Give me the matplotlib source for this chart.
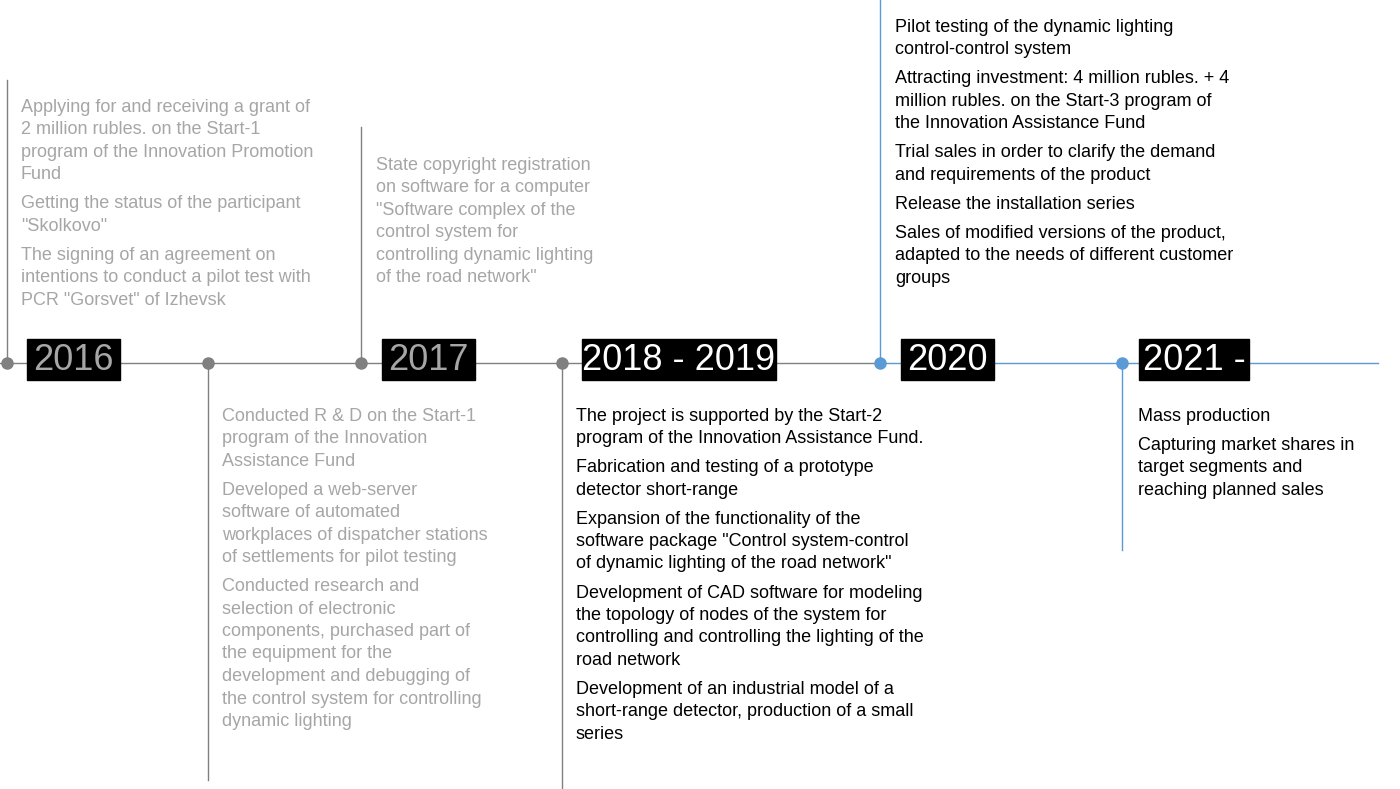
import matplotlib.pyplot as plt

plt.rcParams['font.family'] = ['Liberation Sans', 'DejaVu Sans']

GREY_TXT = '#a6a6a6'
GREY_LN = '#808080'
BLUE = '#5b9bd5'

# year boxes: label, left, right, text colour
years = [('2016', 27, 120, GREY_TXT), ('2017', 382, 475, GREY_TXT),
         ('2018 - 2019', 582, 776, 'white'), ('2020', 901, 994, 'white'),
         ('2021 -', 1139, 1249, 'white')]

# dots: x, colour ; stems: x, y0, y1, colour
dots = [(7, GREY_LN), (208, GREY_LN), (361, GREY_LN), (562, GREY_LN), (880, BLUE), (1122, BLUE)]
stems = [(7, 80, 363, GREY_LN), (208, 363, 780, GREY_LN), (361, 127, 363, GREY_LN),
         (562, 363, 789, GREY_LN), (880, 0, 363, BLUE), (1122, 363, 550, BLUE)]

# text blocks: x, first line centre, colour, items (each a list of lines)
blocks = [
    (21, 107, GREY_TXT, [
        ['Applying for and receiving a grant of', '2 million rubles. on the Start-1',
         'program of the Innovation Promotion', 'Fund'],
        ['Getting the status of the participant', '"Skolkovo"'],
        ['The signing of an agreement on', 'intentions to conduct a pilot test with',
         'PCR "Gorsvet" of Izhevsk']]),
    (376, 165, GREY_TXT, [
        ['State copyright registration', 'on software for a computer',
         '"Software complex of the', 'control system for',
         'controlling dynamic lighting', 'of the road network"']]),
    (222, 416, GREY_TXT, [
        ['Conducted R & D on the Start-1', 'program of the Innovation', 'Assistance Fund'],
        ['Developed a web-server', 'software of automated',
         'workplaces of dispatcher stations', 'of settlements for pilot testing'],
        ['Conducted research and', 'selection of electronic',
         'components, purchased part of', 'the equipment for the',
         'development and debugging of', 'the control system for controlling',
         'dynamic lighting']]),
    (576, 416, 'black', [
        ['The project is supported by the Start-2', 'program of the Innovation Assistance Fund.'],
        ['Fabrication and testing of a prototype', 'detector short-range'],
        ['Expansion of the functionality of the', 'software package "Control system-control',
         'of dynamic lighting of the road network"'],
        ['Development of CAD software for modeling', 'the topology of nodes of the system for',
         'controlling and controlling the lighting of the', 'road network'],
        ['Development of an industrial model of a', 'short-range detector, production of a small',
         'series']]),
    (895, 27, 'black', [
        ['Pilot testing of the dynamic lighting', 'control-control system'],
        ['Attracting investment: 4 million rubles. + 4', 'million rubles. on the Start-3 program of',
         'the Innovation Assistance Fund'],
        ['Trial sales in order to clarify the demand', 'and requirements of the product'],
        ['Release the installation series'],
        ['Sales of modified versions of the product,', 'adapted to the needs of different customer',
         'groups']]),
    (1138, 416, 'black', [
        ['Mass production'],
        ['Capturing market shares in', 'target segments and', 'reaching planned sales']]),
]

fig = plt.figure(figsize=(14, 7.89), dpi=100)
ax = fig.add_axes([0, 0, 1, 1])
ax.set_xlim(0, 1400)
ax.set_ylim(789, 0)
ax.axis('off')

LINE_Y = 363
ax.plot([0, 880], [LINE_Y, LINE_Y], color=GREY_LN, lw=1)
ax.plot([880, 1378], [LINE_Y, LINE_Y], color=BLUE, lw=1)
for x, y0, y1, c in stems:
    ax.plot([x, x], [y0, y1], color=c, lw=1)
for x, c in dots:
    ax.plot(x, LINE_Y, 'o', color=c, ms=8, zorder=3)

for label, x0, x1, c in years:
    ax.add_patch(plt.Rectangle((x0, 339), x1 - x0, 41, color='black', zorder=4))
    ax.text((x0 + x1) / 2, 360, label, color=c, fontsize=26, ha='center', va='center', zorder=5)

PITCH = 22.5
GAP = 6.5
for x, y, c, items in blocks:
    for item in items:
        for line in item:
            ax.text(x, y, line, color=c, fontsize=13, ha='left', va='center')
            y += PITCH
        y += GAP

fig.savefig('out.png', dpi=100)
